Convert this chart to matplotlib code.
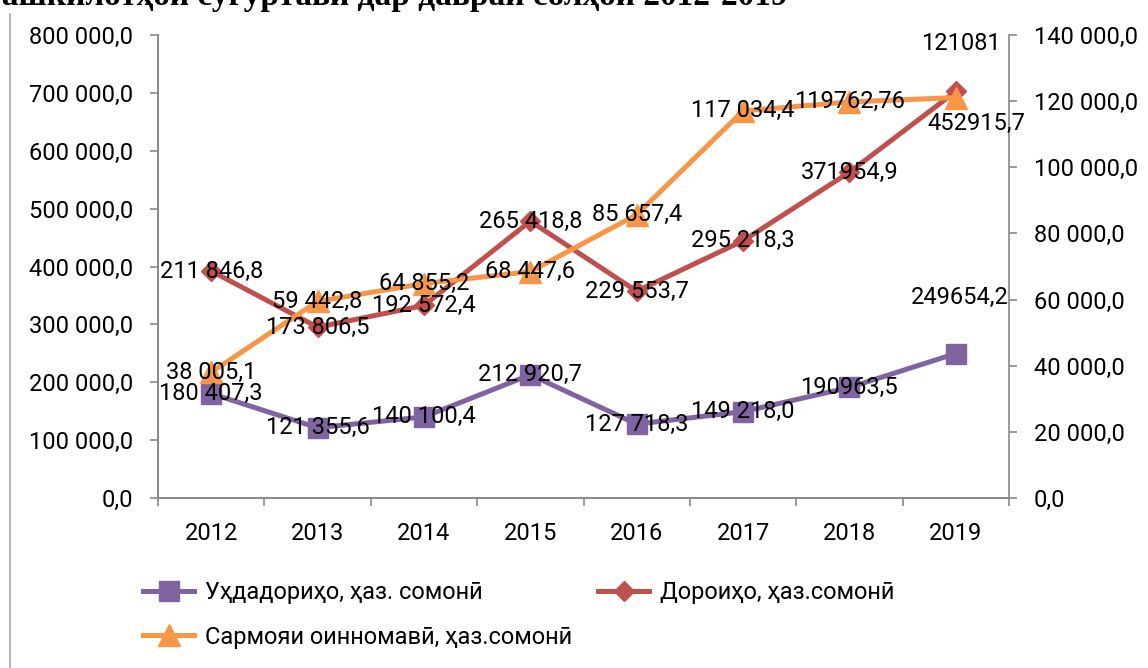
import numpy as np
import matplotlib
matplotlib.use('Agg')
import matplotlib.pyplot as plt
from matplotlib.lines import Line2D
from matplotlib.ticker import FixedLocator, FuncFormatter

# Data
years = ['2012', '2013', '2014', '2015', '2016', '2017', '2018', '2019']

# Uhdadoriho (liabilities), thousand somoni - left axis
liabilities = [180407.3, 121355.6, 140100.4, 212920.7, 127718.3, 149218.0, 190963.5, 249654.2]
liabilities_labels = ['180 407,3', '121 355,6', '140 100,4', '212 920,7',
                      '127 718,3', '149 218,0', '190963,5', '249654,2']

# Doroiho (assets), thousand somoni - stacked on liabilities (left axis)
assets = [211846.8, 173806.5, 192572.4, 265418.8, 229553.7, 295218.3, 371954.9, 452915.7]
assets_labels = ['211 846,8', '173 806,5', '192 572,4', '265 418,8',
                 '229 553,7', '295 218,3', '371954,9', '452915,7']

# Sarmoyai oinnomavi (charter capital), thousand somoni - right axis
capital = [38005.1, 59442.8, 64855.2, 68447.6, 85657.4, 117034.4, 119762.76, 121081]
capital_labels = ['38 005,1', '59 442,8', '64 855,2', '68 447,6',
                  '85 657,4', '117 034,4', '119762,76', '121081']

series_names = ['Уҳдадориҳо, ҳаз. сомонӣ',
                'Дороиҳо, ҳаз.сомонӣ',
                'Сармояи оинномавӣ, ҳаз.сомонӣ']
title = 'Динамикаи фаъолияти ташкилотҳои сугуртавӣ дар давраи солҳои 2012-2019'

left_ticks = np.arange(0, 800001, 100000)
right_ticks = np.arange(0, 140001, 20000)

plt.rcParams['font.family'] = ['Roboto', 'DejaVu Sans']

PURPLE = '#8064A2'
RED = '#C0504D'
ORANGE = '#F79646'
AXIS_GRAY = '#898989'
FS = 17


def num_fmt(v, pos=None):
    return '{:,.1f}'.format(v).replace(',', ' ').replace('.', ',')


fig = plt.figure(figsize=(11.48, 6.68), dpi=100)
ax = fig.add_axes([158/1148, 1 - 498/668, (1009 - 158)/1148, (498 - 35)/668])
ax2 = ax.twinx()

x = np.arange(len(years))
stacked_assets = np.array(liabilities) + np.array(assets)

ax.plot(x, liabilities, color=PURPLE, linewidth=3.6, marker='s', markersize=14,
        label=series_names[0], zorder=3)
ax.plot(x, stacked_assets, color=RED, linewidth=3.6, marker='D', markersize=10,
        label=series_names[1], zorder=3)
ax2.plot(x, capital, color=ORANGE, linewidth=3.6, marker='^', markersize=16,
         label=series_names[2], zorder=3)

ax.set_xlim(-0.5, len(years) - 0.5)
ax.set_ylim(0, 800000)
ax2.set_ylim(0, 140000)

ax.set_yticks(left_ticks)
ax2.set_yticks(right_ticks)
ax.yaxis.set_major_formatter(FuncFormatter(num_fmt))
ax2.yaxis.set_major_formatter(FuncFormatter(num_fmt))

ax.set_xticks(x)
ax.set_xticklabels(years)
ax.xaxis.set_minor_locator(FixedLocator(np.arange(-0.5, len(years), 1.0)))
ax.tick_params(axis='x', which='major', length=0, pad=17, labelsize=FS)
ax.tick_params(axis='x', which='minor', length=6, width=1.2, color=AXIS_GRAY)
ax.tick_params(axis='y', length=6, width=1.2, color=AXIS_GRAY, pad=12, labelsize=FS)
ax2.tick_params(axis='y', length=6, width=1.2, color=AXIS_GRAY, pad=12, labelsize=FS)

for a in (ax, ax2):
    a.spines['top'].set_visible(False)
    for side in ('left', 'right', 'bottom'):
        a.spines[side].set_color(AXIS_GRAY)
        a.spines[side].set_linewidth(1.2)
ax.spines['right'].set_visible(False)

# Data labels, centred on the points; the 2019 ones were moved by hand
offsets = {('liab', 7): (3, 40), ('assets', 7): (15, -23), ('cap', 7): (4, 39)}
label_sets = [('liab', liabilities, liabilities_labels, ax.transData),
              ('assets', stacked_assets, assets_labels, ax.transData),
              ('cap', capital, capital_labels, ax2.transData)]
for key, vals, labels, trans in label_sets:
    for i, (v, txt) in enumerate(zip(vals, labels)):
        dx, dy = offsets.get((key, i), (0, 0))
        ax2.annotate(txt, xy=(i, v), xycoords=trans, xytext=(dx, dy),
                     textcoords='offset points', ha='center', va='center',
                     fontsize=FS, color='black', zorder=10)

# Legend: purple and orange in the first column, red in the second
h1, l1 = ax.get_legend_handles_labels()
h2, l2 = ax2.get_legend_handles_labels()
fig.legend([h1[0], h2[0], h1[1]], [l1[0], l2[0], l1[1]], ncol=2,
           loc='upper left', bbox_to_anchor=(143/1148, 1 - 581/668),
           frameon=False, fontsize=FS, handlelength=2.16, handletextpad=0.47,
           columnspacing=1.1, labelspacing=0.92, borderpad=0, borderaxespad=0)

# Title cut off at the top of the picture
fig.text(787/1148, 1 - 5/668, title, ha='right', va='baseline', fontsize=24,
         fontweight='bold', family=['Liberation Serif', 'DejaVu Serif'])

# Left border of the chart area
fig.add_artist(Line2D([10/1148, 10/1148], [0, 1 - 14/668], transform=fig.transFigure,
                      color='#A6A6A6', linewidth=1.2))

plt.savefig('out.png', dpi=100)
